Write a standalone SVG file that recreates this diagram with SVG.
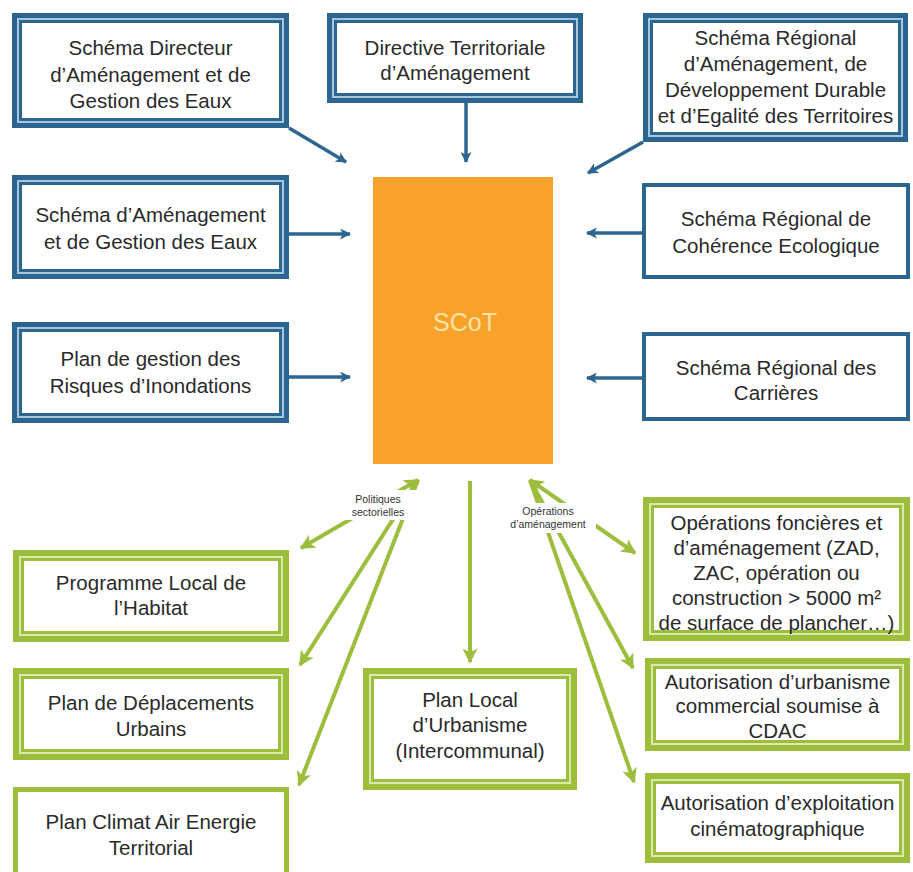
<svg xmlns="http://www.w3.org/2000/svg" width="913" height="872" viewBox="0 0 913 872">
<defs>
<style>
text{font-family:"Liberation Sans",Arial,sans-serif;font-size:20.5px;fill:#2a2a2a;text-anchor:middle}
.bo{fill:#fff;stroke:#2C6590;stroke-width:5}
.bl{fill:none;stroke:#A6C6DE;stroke-width:2}
.bi{fill:none;stroke:#2C6590;stroke-width:3}
.bs{fill:#fff;stroke:#2C6590;stroke-width:4}
.go{fill:#fff;stroke:#9CBE3C;stroke-width:6}
.gl{fill:none;stroke:#DCE9AE;stroke-width:2}
.gi{fill:none;stroke:#9CBE3C;stroke-width:3}
.gs{fill:#fff;stroke:#9CBE3C;stroke-width:5}
.cb{stroke:#2C6590;stroke-width:3.5;fill:none;marker-end:url(#ab)}
.cg{stroke:#9CBE3C;stroke-width:4;fill:none;marker-end:url(#ag)}
.sm{font-size:10.5px;fill:#333}
</style>
<marker id="ab" viewBox="0 0 10 10" refX="9" refY="5" markerWidth="12" markerHeight="11" markerUnits="userSpaceOnUse" orient="auto-start-reverse"><path d="M0,0 L10,5 L0,10 L2.5,5 z" fill="#2C6590"/></marker>
<marker id="ag" viewBox="0 0 10 10" refX="9" refY="5" markerWidth="16" markerHeight="15" markerUnits="userSpaceOnUse" orient="auto-start-reverse"><path d="M0,0 L10,5 L0,10 L2.5,5 z" fill="#9CBE3C"/></marker>
</defs>
<rect width="913" height="872" fill="#fff"/>

<g id="connectors">
<line class="cb" x1="289" y1="128" x2="346" y2="162"/>
<line class="cb" x1="466" y1="103" x2="466" y2="162"/>
<line class="cb" x1="643" y1="142" x2="588" y2="173"/>
<line class="cb" x1="289" y1="234" x2="350" y2="234"/>
<line class="cb" x1="289" y1="377" x2="350" y2="377"/>
<line class="cb" x1="642" y1="233" x2="587" y2="233"/>
<line class="cb" x1="642" y1="378" x2="587" y2="378"/>
<line class="cg" x1="418" y1="480" x2="301" y2="548" style="marker-start:url(#ag)"/>
<line class="cg" x1="418" y1="480" x2="300" y2="665"/>
<line class="cg" x1="418" y1="480" x2="299" y2="785"/>
<line class="cg" x1="470" y1="481" x2="470" y2="662"/>
<line class="cg" x1="530" y1="480" x2="635" y2="553" style="marker-start:url(#ag)"/>
<line class="cg" x1="530" y1="480" x2="633" y2="668"/>
<line class="cg" x1="530" y1="480" x2="634" y2="782"/>
<rect x="338" y="490" width="80" height="30" fill="#fff"/>
<text class="sm" x="378" y="503">Politiques</text>
<text class="sm" x="378" y="516">sectorielles</text>
<rect x="500" y="503" width="96" height="30" fill="#fff"/>
<text class="sm" x="548" y="515">Opérations</text>
<text class="sm" x="548" y="528">d’aménagement</text>
</g>

<g id="scot">
<rect x="373" y="177" width="180" height="287" fill="#F8A22B"/>
<text x="465" y="331" style="font-size:25px;fill:#FBE3A4">SCoT</text>
</g>

<g id="sdage">
<rect class="bo" x="14.5" y="15.5" width="272" height="110"/>
<rect class="bl" x="18" y="19" width="265" height="103"/>
<rect class="bi" x="20.5" y="21.5" width="260" height="98"/>
<text x="150.5" y="55">Schéma Directeur</text>
<text x="150.5" y="82">d’Aménagement et de</text>
<text x="150.5" y="108">Gestion des Eaux</text>
</g>

<g id="dta">
<rect class="bo" x="329.5" y="15.5" width="251" height="85"/>
<rect class="bl" x="333" y="19" width="244" height="78"/>
<rect class="bi" x="335.5" y="21.5" width="239" height="73"/>
<text x="455" y="55">Directive Territoriale</text>
<text x="455" y="80">d’Aménagement</text>
</g>

<g id="sraddet">
<rect class="bo" x="645.5" y="15.5" width="260" height="124"/>
<rect class="bl" x="649" y="19" width="253" height="117"/>
<rect class="bi" x="651.5" y="21.5" width="248" height="112"/>
<text x="775.5" y="45">Schéma Régional</text>
<text x="775.5" y="71">d’Aménagement, de</text>
<text x="775.5" y="97">Développement Durable</text>
<text x="775.5" y="123">et d’Egalité des Territoires</text>
</g>

<g id="sage">
<rect class="bo" x="14.5" y="177.5" width="272" height="99"/>
<rect class="bl" x="18" y="181" width="265" height="92"/>
<rect class="bi" x="20.5" y="183.5" width="260" height="87"/>
<text x="150.5" y="222">Schéma d’Aménagement</text>
<text x="150.5" y="249">et de Gestion des Eaux</text>
</g>

<g id="pgri">
<rect class="bo" x="14.5" y="324.5" width="272" height="96"/>
<rect class="bl" x="18" y="328" width="265" height="89"/>
<rect class="bi" x="20.5" y="330.5" width="260" height="84"/>
<text x="150.5" y="366">Plan de gestion des</text>
<text x="150.5" y="393">Risques d’Inondations</text>
</g>

<g id="srce">
<rect class="bs" x="644" y="185" width="264" height="92"/>
<text x="776" y="226">Schéma Régional de</text>
<text x="776" y="253">Cohérence Ecologique</text>
</g>

<g id="src">
<rect class="bs" x="644" y="334" width="264" height="85"/>
<text x="776" y="375">Schéma Régional des</text>
<text x="776" y="400">Carrières</text>
</g>

<g id="plh">
<rect class="go" x="16" y="553" width="270" height="86"/>
<rect class="gl" x="20" y="557" width="262" height="78"/>
<rect class="gi" x="22.5" y="559.5" width="257" height="73"/>
<text x="151" y="590">Programme Local de</text>
<text x="151" y="615">l’Habitat</text>
</g>

<g id="pdu">
<rect class="go" x="16" y="671" width="270" height="86"/>
<rect class="gl" x="20" y="675" width="262" height="78"/>
<rect class="gi" x="22.5" y="677.5" width="257" height="73"/>
<text x="151" y="710">Plan de Déplacements</text>
<text x="151" y="736">Urbains</text>
</g>

<g id="pcaet">
<rect class="gs" x="15.5" y="789.5" width="271" height="100"/>
<text x="151" y="829">Plan Climat Air Energie</text>
<text x="151" y="855">Territorial</text>
</g>

<g id="plu">
<rect class="go" x="366" y="671" width="208" height="116"/>
<rect class="gl" x="370" y="675" width="200" height="108"/>
<rect class="gi" x="372.5" y="677.5" width="195" height="103"/>
<text x="470" y="707">Plan Local</text>
<text x="470" y="732">d’Urbanisme</text>
<text x="470" y="758">(Intercommunal)</text>
</g>

<g id="operations">
<rect class="go" x="646" y="500" width="261" height="138"/>
<rect class="gl" x="650" y="504" width="253" height="130"/>
<rect class="gi" x="652.5" y="506.5" width="248" height="125"/>
<text x="776.5" y="530">Opérations foncières et</text>
<text x="776.5" y="555">d’aménagement (ZAD,</text>
<text x="776.5" y="580">ZAC, opération ou</text>
<text x="776.5" y="605">construction &gt; 5000 m²</text>
<text x="776.5" y="630">de surface de plancher…)</text>
</g>

<g id="cdac">
<rect class="go" x="648" y="661" width="259" height="87"/>
<rect class="gl" x="652" y="665" width="251" height="79"/>
<rect class="gi" x="654.5" y="667.5" width="246" height="74"/>
<text x="777.5" y="689">Autorisation d’urbanisme</text>
<text x="777.5" y="713">commercial soumise à</text>
<text x="777.5" y="738">CDAC</text>
</g>

<g id="cinema">
<rect class="go" x="648" y="776" width="259" height="84"/>
<rect class="gl" x="652" y="780" width="251" height="76"/>
<rect class="gi" x="654.5" y="782.5" width="246" height="71"/>
<text x="777.5" y="810">Autorisation d’exploitation</text>
<text x="777.5" y="836">cinématographique</text>
</g>
</svg>
